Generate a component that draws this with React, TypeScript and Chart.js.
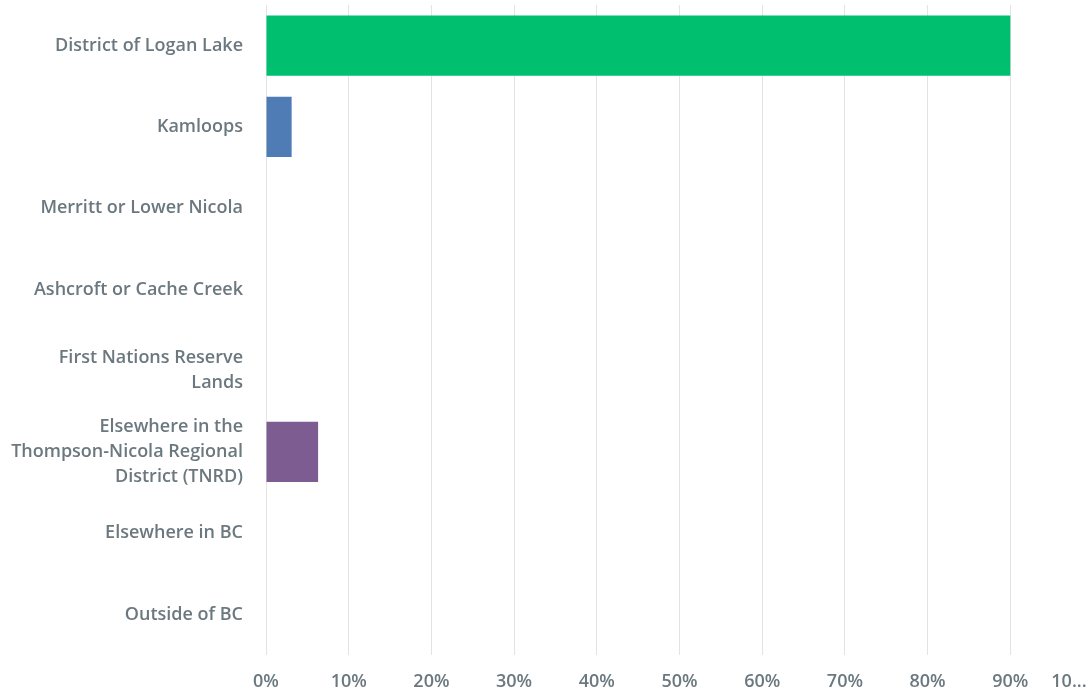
import React, { useEffect, useRef } from "react";
import { Chart, registerables } from "chart.js";

Chart.register(...registerables);

const categories: (string | string[])[] = [
  "District of Logan Lake",
  "Kamloops",
  "Merritt or Lower Nicola",
  "Ashcroft or Cache Creek",
  ["First Nations Reserve", "Lands"],
  ["Elsewhere in the", "Thompson-Nicola Regional", "District (TNRD)"],
  "Elsewhere in BC",
  "Outside of BC",
];
const values = [90.0, 3.1, 0, 0, 0, 6.3, 0, 0];
const barColors = ["#00BF6F", "#507CB6", "#F9BE00", "#6BC8CD", "#FF8B4F", "#7D5D91", "#FF6262", "#A3A3A3"];
const xTicks = [0, 10, 20, 30, 40, 50, 60, 70, 80, 90, 100];
const truncatedLastTick = "10...";

const FONT = "'Open Sans', Roboto, sans-serif";
const FONT_SIZE = 18;
const FONT_WEIGHT = "600";
const TEXT = "#6b787f";

export default function App() {
  const ref = useRef<HTMLCanvasElement>(null);
  useEffect(() => {
    if (!ref.current) return;
    const lastTickPlugin = {
      id: "lastTick",
      afterDraw(chart: any) {
        const scale = chart.scales.x;
        const ctx = chart.ctx;
        let y = scale.top + 16;
        let baseline: CanvasTextBaseline = "top";
        try {
          const items = scale._labelItems || (scale.getLabelItems ? scale.getLabelItems() : null);
          if (items && items.length) {
            y = items[0].options.translation[1] + (items[0].textOffset || 0);
            baseline = items[0].options.textBaseline;
          }
        } catch (e) {}
        ctx.save();
        ctx.font = `${FONT_WEIGHT} ${FONT_SIZE}px ${FONT}`;
        ctx.fillStyle = TEXT;
        ctx.textAlign = "center";
        ctx.textBaseline = baseline;
        ctx.fillText(truncatedLastTick, scale.getPixelForValue(100) - 24, y);
        ctx.restore();
      },
    };
    const chart = new Chart(ref.current, {
      type: "bar",
      data: {
        labels: categories,
        datasets: [
          {
            data: values,
            backgroundColor: barColors,
            barPercentage: 0.74,
            categoryPercentage: 1,
          },
        ],
      },
      options: {
        indexAxis: "y",
        animation: false,
        responsive: false,
        maintainAspectRatio: false,
        layout: { padding: { top: 5, right: 7, left: 0, bottom: 0 } },
        plugins: { legend: { display: false }, tooltip: { enabled: false } },
        scales: {
          x: {
            min: 0,
            max: 100,
            afterBuildTicks: (s: any) => {
              s.ticks = xTicks.map((v) => ({ value: v }));
            },
            afterFit: (s: any) => {
              s.height = 38;
              s.paddingLeft = 0;
              s.paddingRight = 0;
            },
            grid: { color: "#e3e3e3", drawTicks: false, lineWidth: 1 },
            border: { display: false },
            ticks: {
              padding: 16,
              color: TEXT,
              font: { family: FONT, size: FONT_SIZE, weight: FONT_WEIGHT },
              maxRotation: 0,
              autoSkip: false,
              callback: (v: any) => (Number(v) === 100 ? "" : `${v}%`),
            },
          },
          y: {
            afterFit: (s: any) => {
              s.width = 266;
              s.paddingTop = 0;
              s.paddingBottom = 0;
            },
            grid: { display: false, drawTicks: false },
            border: { display: false },
            ticks: {
              padding: 23,
              color: TEXT,
              font: { family: FONT, size: FONT_SIZE, weight: FONT_WEIGHT, lineHeight: 25 / FONT_SIZE },
              autoSkip: false,
            },
          },
        },
      },
      plugins: [lastTickPlugin],
    });
    return () => chart.destroy();
  }, []);
  return (
    <div style={{ position: "absolute", left: 0, top: 0, width: 1089, height: 693, overflow: "hidden", background: "#fff" }}>
      <canvas ref={ref} width={1100} height={693} style={{ display: "block" }} />
    </div>
  );
}
